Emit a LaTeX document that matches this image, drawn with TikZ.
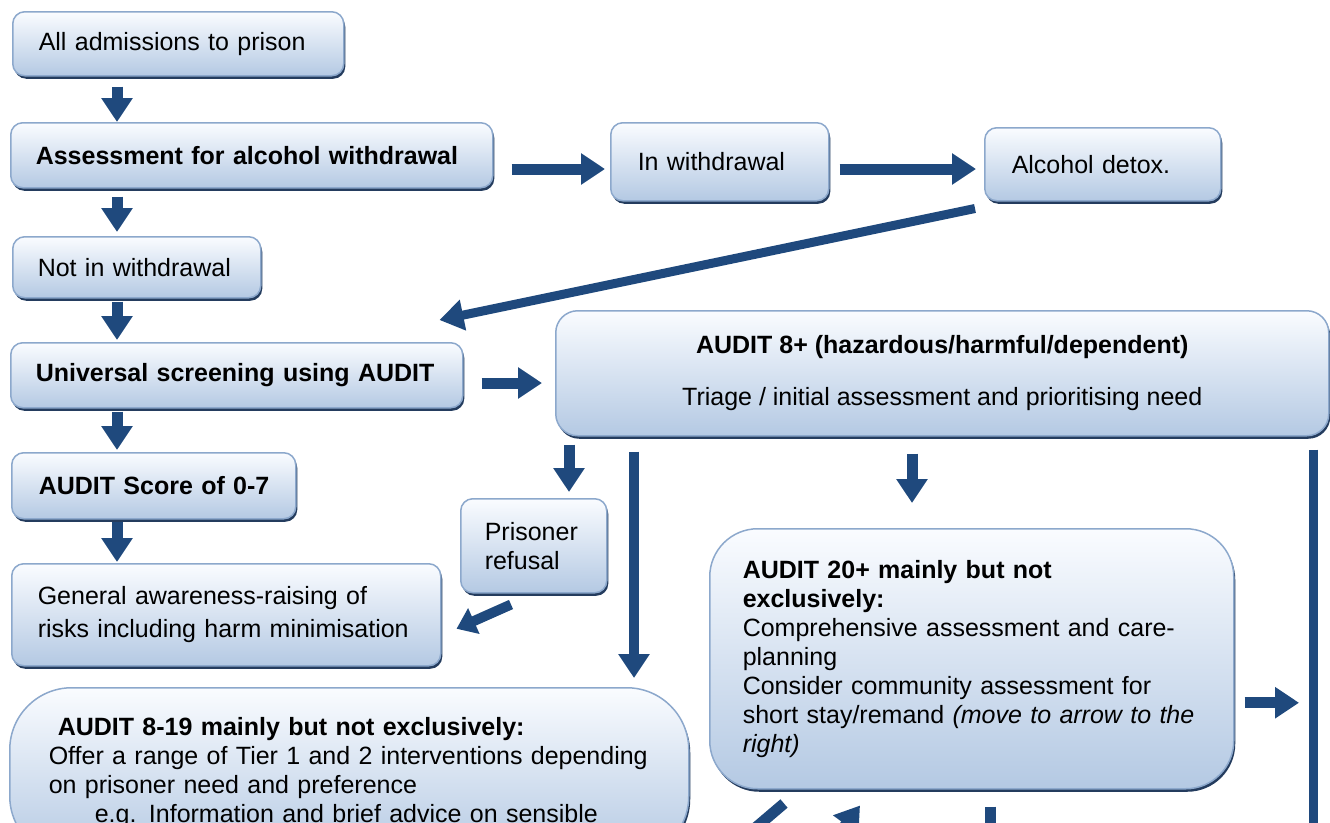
\documentclass[tikz,border=0pt]{standalone}
\usepackage{fontspec}
\setmainfont{Liberation Sans}
\usetikzlibrary{arrows.meta,shadows,calc}
\definecolor{arrowc}{RGB}{31,73,125}
\definecolor{boxtop}{RGB}{250,252,255}
\definecolor{boxbot}{RGB}{180,201,227}
\definecolor{boxborder}{RGB}{140,168,204}
\definecolor{shadowc}{RGB}{36,60,94}
\newcommand\boxfont{\fontsize{25}{29}\selectfont}
\begin{document}
\begin{tikzpicture}[x=1pt,y=-1pt,
  box/.style={draw=boxborder, line width=1.5pt, top color=boxtop, bottom color=boxbot,
    drop shadow={shadow xshift=1.5pt, shadow yshift=-3pt, fill=shadowc, opacity=1},
    anchor=north west, align=left, font=\boxfont, inner ysep=2pt, rounded corners=12pt},
  conn/.style={draw=arrowc, line width=11pt, -{Triangle[width=30pt,length=24pt]}},
  smallconn/.style={draw=arrowc, line width=10pt, -{Triangle[width=27pt,length=19pt]}},
  bar/.style={draw=arrowc, line width=9pt}
]
\useasboundingbox (0,0) rectangle (1330,822);
\fill[white] (0,0) rectangle (1330,822);
\clip (0,0) rectangle (1330,822);

% nodes
\node[box, minimum width=331pt, minimum height=64pt, text width=279pt, inner xsep=26pt] (adm) at (12,11) {All admissions to prison};
\node[box, minimum width=482pt, minimum height=65pt, text width=432pt, inner xsep=25pt] (assess) at (10,122) {\textbf{Assessment for alcohol withdrawal}};
\node[box, minimum width=248pt, minimum height=61pt, text width=198pt, inner xsep=25pt] (notw) at (12,236) {Not in withdrawal};
\node[box, minimum width=452pt, minimum height=65pt, text width=402pt, inner xsep=25pt] (univ) at (10,342) {\textbf{Universal screening using AUDIT}};
\node[box, minimum width=284pt, minimum height=66pt, text width=230pt, inner xsep=27pt] (score) at (11,452) {\mbox{\textbf{AUDIT Score of 0-7}}};
\node[box, minimum width=429pt, minimum height=102pt, text width=377pt, inner xsep=26pt, font=\fontsize{25}{33}\selectfont] (gen) at (11,563) {General awareness-raising of\\risks including harm minimisation};
\node[box, minimum width=146pt, minimum height=94pt, text width=98pt, inner xsep=24pt] (refusal) at (460,498) {Prisoner\\refusal};
\node[box, minimum width=218pt, minimum height=78pt, text width=164pt, inner xsep=27pt] (inw) at (610,122) {In withdrawal};
\node[box, minimum width=236pt, minimum height=73pt, text width=182pt, inner xsep=27pt] (detox) at (984,127) {Alcohol detox.};
\node[box, minimum width=773pt, minimum height=125pt, align=center, rounded corners=22pt] (a8p) at (555,310) {\textbf{AUDIT 8+ (hazardous/harmful/dependent)}\\[23pt]Triage / initial assessment and prioritising need};
\node[box, minimum width=524pt, minimum height=260pt, text width=458pt, inner xsep=33pt, rounded corners=48pt] (a20) at (709,528) {\textbf{AUDIT 20+ mainly but not}\\ \textbf{exclusively:}\\ \mbox{Comprehensive assessment and care-}\\ planning\\ \mbox{Consider community assessment for}\\ \mbox{short stay/remand \textit{(move to arrow to the}}\\ \textit{right)}};
\node[box, text width=601pt, inner xsep=39pt, inner ysep=30pt, rounded corners=62pt] (a819) at (9,687) {\hspace*{9pt}\textbf{AUDIT 8-19 mainly but not exclusively:}\\ \mbox{Offer a range of Tier 1 and 2 interventions depending}\\ on prisoner need and preference\\ \hspace*{46pt}\mbox{e.g. Information and brief advice on sensible}};

% helper coordinates
\coordinate (colA) at (117,0);
\coordinate (colB) at (569,0);
\coordinate (colC) at (634,0);
\coordinate (colD) at (912,0);
\coordinate (rowA) at (0,169);
\coordinate (rowB) at (0,383);
\coordinate (offR) at (1313,960);
\coordinate (offA) at (720,858);
\coordinate (offB) at (815,866);
\coordinate (offC) at (990,900);

% connectors
\draw[conn] ($(adm.south -| colA)+(0,10)$) -- (assess.north -| colA);
\draw[conn] ($(assess.south -| colA)+(0,8)$) -- ($(notw.north -| colA)+(0,-4)$);
\draw[conn] ($(notw.south -| colA)+(0,3)$) -- ($(univ.north -| colA)+(0,-2)$);
\draw[conn] ($(univ.south -| colA)+(0,3)$) -- ($(score.north -| colA)+(0,-2)$);
\draw[conn] ($(score.south -| colA)+(0,2)$) -- ($(gen.north -| colA)+(0,-1)$);
\draw[conn] ($(assess.east |- rowA)+(18,0)$) -- ($(inw.west |- rowA)+(-5,0)$);
\draw[conn] ($(inw.east |- rowA)+(10,0)$) -- ($(detox.west |- rowA)+(-8,0)$);
\draw[conn, line width=9pt] ($(detox.south west)+(-9,7)$) -- ($(univ.north east)+(-24,-22)$);
\draw[conn] ($(univ.east |- rowB)+(18,0)$) -- ($(a8p.west |- rowB)+(-13,0)$);
\draw[conn] ($(a8p.south -| colB)+(0,8)$) -- ($(refusal.north -| colB)+(0,-6)$);
\draw[conn, line width=10pt] ($(a8p.south -| colC)+(0,15)$) -- ($(a819.north -| colC)+(0,-9)$);
\draw[conn] ($(a8p.south -| colD)+(0,17)$) -- ($(a20.north -| colD)+(0,-25)$);
\draw[bar] ($(a8p.south -| offR)+(0,13)$) -- (offR);
\draw[smallconn] ($(refusal.south west)+(51,11)$) -- ($(gen.east)+(15,14)$);
\draw[conn] ($(a20.east)+(10,44)$) -- ($(a20.east -| offR)+(-14,44)$);
\draw[conn] ($(a20.south west)+(75,14)$) -- (offA);
\draw[conn] (offB) -- ($(a20.south west)+(151,16)$);
\draw[conn] ($(a20.south west)+(281,17)$) -- (offC);
\end{tikzpicture}
\end{document}
